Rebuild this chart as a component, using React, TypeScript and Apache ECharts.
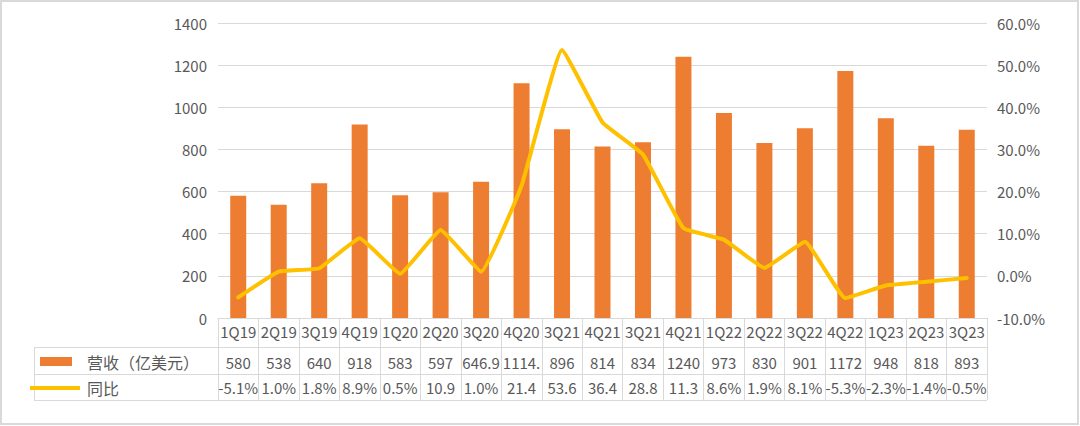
import React, { useEffect, useRef } from "react";
import * as echarts from "echarts";

const categories = ["1Q19", "2Q19", "3Q19", "4Q19", "1Q20", "2Q20", "3Q20", "4Q20", "3Q21", "4Q21", "3Q21", "4Q21", "1Q22", "2Q22", "3Q22", "4Q22", "1Q23", "2Q23", "3Q23"];
const revenue = [580, 538, 640, 918, 583, 597, 646.9, 1114.4, 896, 814, 834, 1240, 973, 830, 901, 1172, 948, 818, 893];
const revenueLabels = ["580", "538", "640", "918", "583", "597", "646.9", "1114.", "896", "814", "834", "1240", "973", "830", "901", "1172", "948", "818", "893"];
const yoy = [-5.1, 1.0, 1.8, 8.9, 0.5, 10.9, 1.0, 21.4, 53.6, 36.4, 28.8, 11.3, 8.6, 1.9, 8.1, -5.3, -2.3, -1.4, -0.5];
const yoyLabels = ["-5.1%", "1.0%", "1.8%", "8.9%", "0.5%", "10.9", "1.0%", "21.4", "53.6", "36.4", "28.8", "11.3", "8.6%", "1.9%", "8.1%", "-5.3%", "-2.3%", "-1.4%", "-0.5%"];
const seriesNames = ["营收（亿美元）", "同比"];

const FONT = "'Noto Sans CJK SC', 'Noto Sans', sans-serif";
const TXT = "#595959";
const GRID = "#d9d9d9";
const BAR = "#ED7D31";
const LINE = "#FFC000";

export default function App() {
  const ref = useRef<HTMLDivElement>(null);
  useEffect(() => {
    if (!ref.current) return;
    const chart = echarts.init(ref.current, undefined, { renderer: "svg" });
    const labelBase = { interval: 0, fontSize: 15, color: TXT, fontFamily: FONT, lineHeight: 20 };
    const tableLeft = 34;
    const tableRight = 987;
    chart.setOption({
      animation: false,
      backgroundColor: "#ffffff",
      textStyle: { fontFamily: FONT },
      grid: { left: 218, right: 93, top: 23, bottom: 108 },
      xAxis: [
        {
          type: "category",
          position: "bottom",
          data: categories,
          axisLine: { show: true, lineStyle: { color: GRID, width: 1 } },
          axisTick: { show: true, interval: 0, length: 82, lineStyle: { color: GRID, width: 1 } },
          axisLabel: { ...labelBase, margin: 3 },
        },
        {
          type: "category",
          position: "bottom",
          offset: 30,
          data: revenueLabels,
          axisLine: { show: false },
          axisTick: { show: false },
          axisLabel: { ...labelBase, margin: 4 },
        },
        {
          type: "category",
          position: "bottom",
          offset: 55,
          data: yoyLabels,
          axisLine: { show: false },
          axisTick: { show: false },
          axisLabel: { ...labelBase, margin: 4 },
        },
      ],
      yAxis: [
        {
          type: "value",
          min: 0,
          max: 1400,
          interval: 200,
          axisLine: { show: false },
          axisTick: { show: false },
          splitLine: { show: true, lineStyle: { color: GRID, width: 1 } },
          axisLabel: {
            fontSize: 15,
            color: TXT,
            fontFamily: FONT,
            margin: 11,
            formatter: (v: number) => String(v),
          },
        },
        {
          type: "value",
          min: -10,
          max: 60,
          interval: 10,
          position: "right",
          axisLine: { show: false },
          axisTick: { show: false },
          splitLine: { show: false },
          axisLabel: {
            fontSize: 15,
            color: TXT,
            fontFamily: FONT,
            margin: 10,
            formatter: (v: number) => v.toFixed(1) + "%",
          },
        },
      ],
      series: [
        {
          name: seriesNames[0],
          type: "bar",
          xAxisIndex: 0,
          yAxisIndex: 0,
          data: revenue,
          barWidth: 16,
          itemStyle: { color: BAR },
        },
        {
          name: seriesNames[1],
          type: "line",
          xAxisIndex: 0,
          yAxisIndex: 1,
          data: yoy,
          smooth: 0.1,
          symbol: "none",
          lineStyle: { color: LINE, width: 4, cap: "round", join: "round" },
          z: 5,
        },
      ],
      graphic: [
        {
          type: "rect",
          shape: { x: 1, y: 1, width: 1077, height: 423 },
          style: { fill: "none", stroke: GRID, lineWidth: 2 },
          silent: true,
        },
        { type: "line", shape: { x1: tableLeft, y1: 347.5, x2: tableRight, y2: 347.5 }, style: { stroke: GRID, lineWidth: 1 } },
        { type: "line", shape: { x1: tableLeft, y1: 374.5, x2: tableRight, y2: 374.5 }, style: { stroke: GRID, lineWidth: 1 } },
        { type: "line", shape: { x1: tableLeft, y1: 400.5, x2: tableRight, y2: 400.5 }, style: { stroke: GRID, lineWidth: 1 } },
        { type: "line", shape: { x1: tableLeft + 0.5, y1: 347.5, x2: tableLeft + 0.5, y2: 400.5 }, style: { stroke: GRID, lineWidth: 1 } },
        { type: "rect", shape: { x: 40, y: 357, width: 32, height: 9 }, style: { fill: BAR } },
        {
          type: "text",
          x: 87,
          y: 362,
          style: { text: seriesNames[0], fontSize: 16, fill: TXT, fontFamily: FONT, verticalAlign: "middle" },
        },
        { type: "line", shape: { x1: 30, y1: 388, x2: 80, y2: 388 }, style: { stroke: LINE, lineWidth: 4 } },
        {
          type: "text",
          x: 87,
          y: 388,
          style: { text: seriesNames[1], fontSize: 16, fill: TXT, fontFamily: FONT, verticalAlign: "middle" },
        },
      ],
    });
    return () => chart.dispose();
  }, []);
  return (
    <div
      ref={ref}
      style={{ position: "fixed", left: 0, top: 0, width: 1080, height: 426, background: "#fff" }}
    />
  );
}
